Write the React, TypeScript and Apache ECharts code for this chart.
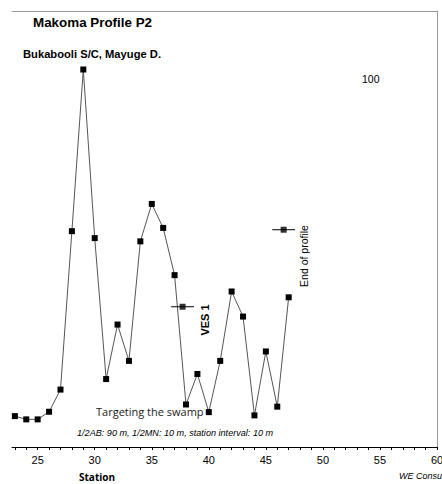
import React, { useEffect, useRef } from "react";
import * as echarts from "echarts";

const stations = [23, 24, 25, 26, 27, 28, 29, 30, 31, 32, 33, 34, 35, 36, 37, 38, 39, 40, 41, 42, 43, 44, 45, 46, 47];
const resistivity = [8.5, 7.6, 7.6, 9.7, 15.8, 59.4, 103.9, 57.5, 18.7, 33.7, 23.7, 56.6, 66.9, 60.3, 47.3, 11.7, 20.1, 9.6, 23.7, 42.8, 35.9, 8.7, 26.3, 11.1, 41.2];
const vesMarker = [37.7, 38.6];
const endMarker = [46.56, 59.8];
const markerHalfWidth = 1;
const tickValues = Array.from({ length: 38 }, (_, i) => 23 + i);
const labelValues = [25, 30, 35, 40, 45, 50, 55, 60];

export default function App() {
  const ref = useRef<HTMLDivElement>(null);
  useEffect(() => {
    if (!ref.current) return;
    const chart = echarts.init(ref.current, null, { renderer: "svg" });
    const lineData = stations.map((s, i) => [s, resistivity[i]]);
    const bar = (m: number[]) => [
      [m[0] - markerHalfWidth, m[1]],
      [m[0] + markerHalfWidth, m[1]],
    ];
    chart.setOption({
      animation: false,
      backgroundColor: "#ffffff",
      grid: { left: 12, right: 5, top: 11, bottom: 37, outerBoundsMode: "none", containLabel: false },
      xAxis: [
        {
          type: "value",
          min: 22.75,
          max: 60,
          position: "bottom",
          axisLine: { show: true, lineStyle: { color: "#000", width: 1 } },
          axisTick: { show: true, length: 3, customValues: tickValues, lineStyle: { color: "#000" } },
          axisLabel: {
            customValues: labelValues,
            color: "#000",
            fontSize: 11,
            fontFamily: "Liberation Sans",
            margin: 7,
          },
          splitLine: { show: false },
        },
        {
          type: "value",
          min: 22.75,
          max: 60,
          position: "top",
          axisLine: { show: true, lineStyle: { color: "#999", width: 1 } },
          axisTick: { show: false },
          axisLabel: { show: false },
          splitLine: { show: false },
        },
      ],
      yAxis: {
        type: "value",
        min: 0,
        max: 120,
        position: "right",
        axisLine: { show: true, lineStyle: { color: "#999", width: 1 } },
        axisTick: { show: false },
        axisLabel: { show: false },
        splitLine: { show: false },
      },
      series: [
        {
          type: "line",
          data: lineData,
          symbol: "rect",
          symbolSize: 6,
          itemStyle: { color: "#000" },
          lineStyle: { color: "#555", width: 1 },
        },
        {
          type: "line",
          data: bar(vesMarker),
          symbol: "none",
          lineStyle: { color: "#000", width: 1 },
        },
        {
          type: "line",
          data: bar(endMarker),
          symbol: "none",
          lineStyle: { color: "#000", width: 1 },
        },
        {
          type: "scatter",
          data: [vesMarker, endMarker],
          symbol: "rect",
          symbolSize: 6,
          itemStyle: { color: "#000" },
        },
      ],
      graphic: [
        {
          type: "text",
          left: 33,
          top: 16,
          style: { text: "Makoma Profile P2", fontSize: 13.4, fontWeight: "bold", fontFamily: "Liberation Sans", fill: "#000" },
        },
        {
          type: "text",
          left: 23,
          top: 48,
          style: { text: "Bukabooli S/C, Mayuge D.", fontSize: 11.2, fontWeight: "bold", fontFamily: "Liberation Sans", fill: "#000" },
        },
        {
          type: "text",
          left: 362,
          top: 73,
          style: { text: "100", fontSize: 10.5, fontFamily: "Liberation Sans", fill: "#000" },
        },
        {
          type: "text",
          x: 205,
          y: 320,
          rotation: Math.PI / 2,
          style: { text: "VES 1", fontSize: 11, fontWeight: "bold", fontFamily: "Liberation Sans", fill: "#000", align: "center", verticalAlign: "middle" },
        },
        {
          type: "text",
          x: 304,
          y: 256,
          rotation: Math.PI / 2,
          style: { text: "End of profile", fontSize: 10.5, fontFamily: "Liberation Sans", fill: "#000", align: "center", verticalAlign: "middle" },
        },
        {
          type: "text",
          left: 96,
          top: 406,
          style: { text: "Targeting the swamp", fontSize: 11, fontFamily: "Open Sans", fill: "#222" },
        },
        {
          type: "text",
          left: 77,
          top: 428,
          style: { text: "1/2AB: 90 m, 1/2MN: 10 m, station interval: 10 m", fontSize: 9.1, fontStyle: "italic", fontFamily: "Liberation Sans", fill: "#000" },
        },
        {
          type: "text",
          left: 79,
          top: 472,
          style: { text: "Station", fontSize: 10, fontWeight: "bold", fontFamily: "Open Sans", fill: "#000" },
        },
        {
          type: "text",
          left: 399,
          top: 471,
          style: { text: "WE Consu", fontSize: 9, fontStyle: "italic", fontFamily: "Liberation Sans", fill: "#000" },
        },
      ],
    });
    return () => chart.dispose();
  }, []);
  return <div ref={ref} style={{ position: "absolute", left: 0, top: 0, width: 442, height: 484 }} />;
}
